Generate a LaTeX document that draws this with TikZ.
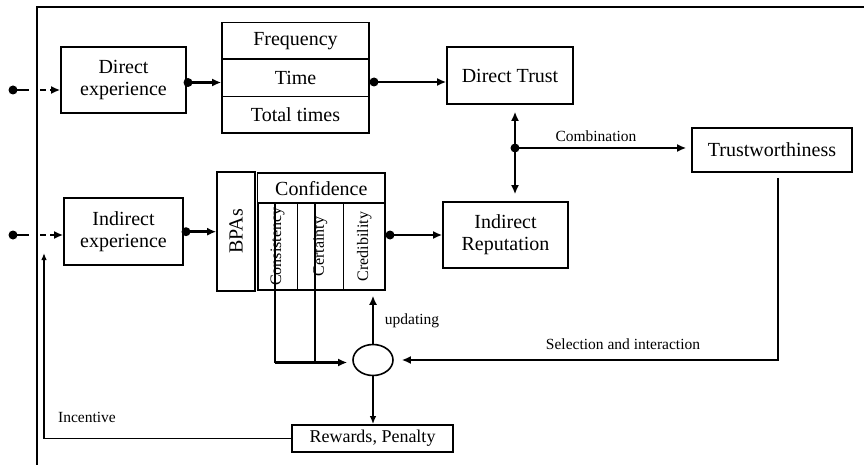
\documentclass[tikz,border=0pt]{standalone}
\usepackage{fontspec}
\setmainfont{Liberation Serif}
\usetikzlibrary{arrows.meta,shapes.geometric,calc}
\begin{document}
\begin{tikzpicture}[x=1pt,y=-1pt,
  box/.style={draw,line width=1.6pt,inner sep=0pt,align=center,font=\fontsize{20}{22}\selectfont},
  vbox/.style={draw,line width=1.6pt,inner sep=0pt,font=\fontsize{16}{18}\selectfont,rotate=90},
  lbl/.style={font=\fontsize{15.5}{17}\selectfont,inner sep=0pt},
  thickarrow/.style={line width=2.8pt,-{Latex[length=9pt,width=8pt]}},
  thinarrow/.style={line width=1.6pt,-{Latex[length=8pt,width=6.5pt]}},
  dot/.style={circle,fill=black,inner sep=0pt,minimum size=9pt},
  dashedarrow/.style={line width=2.8pt,dash pattern=on 6pt off 4pt,-{Latex[length=9pt,width=8pt]}}
]
\useasboundingbox (0,0) rectangle (864,465);
% frame
\draw[line width=1.6pt] (37,465) -- (37,7) -- (864,7);

% nodes
\node[box,minimum width=125pt,minimum height=66pt] (dexp) at (123.5,80) {Direct\\experience};
\node[box,minimum width=147pt,minimum height=36.6pt] (freq) at (295.5,41) {Frequency};
\node[box,minimum width=147pt,minimum height=37.4pt] (time) at (295.5,78) {Time};
\node[box,minimum width=147pt,minimum height=36.6pt] (total) at (295.5,115) {Total times};
\node[box,minimum width=126pt,minimum height=57pt] (dtrust) at (510,75.5) {Direct Trust};
\node[box,minimum width=160pt,minimum height=44pt] (trust) at (772,150) {Trustworthiness};
\node[box,minimum width=125pt,minimum height=66pt] (irep) at (505.5,235) {Indirect\\Reputation};
\node[box,minimum width=119pt,minimum height=67pt] (iexp) at (123.5,231.5) {Indirect\\experience};
\node[box,rotate=90,minimum width=119pt,minimum height=38pt] (bpas) at (236,231.5) {BPAs};
\node[box,minimum width=127.3pt,minimum height=30pt] (conf) at (321.3,188.3) {Confidence};
\node[vbox,minimum width=86.7pt,minimum height=39.6pt] (cons) at (277.5,246.6) {Consistency};
\node[vbox,minimum width=86.7pt,minimum height=46pt] (cert) at (320.3,246.6) {Certainty};
\node[vbox,minimum width=86.7pt,minimum height=41.7pt] (cred) at (364.2,246.6) {Credibility};
\node[draw,ellipse,line width=1.6pt,minimum width=40pt,minimum height=31pt,inner sep=0pt] (ell) at (373,360) {};
\node[box,minimum width=161pt,minimum height=27pt,font=\fontsize{18}{20}\selectfont] (rew) at (372.5,438.5) {Rewards, Penalty};

% labels
\node[lbl] (lcomb) at (596,136) {Combination};
\node[lbl] (lsel) at (623,344) {Selection and interaction};
\node[lbl] (lupd) at (412,321) {updating};
\node[lbl] (linc) at (87,417) {Incentive};

% inputs
\node[dot] (in1) at (13,90) {};
\coordinate (in1e) at (29,90);
\draw[line width=2.8pt] (in1.center) -- (in1e);
\coordinate (d1s) at (40,90);
\draw[dashedarrow] (d1s) -- (d1s -| dexp.west);

\node[dot] (in2) at (13,235) {};
\coordinate (in2e) at (29,235);
\draw[line width=2.8pt] (in2.center) -- (in2e);
\coordinate (d2s) at (40,235);
\draw[dashedarrow] (d2s) -- (d2s -| iexp.west);

% direct path
\node[dot] (p1) at (188,82.5) {};
\draw[thickarrow] (p1.center) -- (p1 -| time.west);
\node[dot] (p2) at (374,82) {};
\draw[thickarrow] (p2.center) -- (p2 -| dtrust.west);

% combination
\coordinate (vx) at (515,148);
\draw[line width=2.8pt,{Latex[length=9pt,width=8pt]}-{Latex[length=9pt,width=8pt]},shorten <=7pt,shorten >=7pt]
  (vx |- dtrust.south) -- (vx |- irep.north);
\node[dot] (p3) at (vx) {};
\draw[thickarrow,shorten >=5pt] (p3.center) -- (p3 -| trust.west);

% indirect path
\node[dot] (p4) at (186,231.7) {};
\draw[thickarrow] (p4.center) -- (p4 -| bpas.north);
\node[dot] (p5) at (390,235) {};
\draw[thickarrow] (p5.center) -- (p5 -| irep.west);

% selection and interaction
\coordinate (tdown) at (778,178);
\coordinate (tcorner) at (778,360);
\draw[thickarrow,shorten >=8pt] (tdown) -- (tcorner) -- (ell.east);

% updating
\draw[thickarrow,shorten >=5pt] (ell.north) -- (ell.north |- cred.west);

% consistency/certainty to ellipse
\coordinate (cs) at (275,0);
\coordinate (ct) at (315,0);
\coordinate (jy) at (0,362.5);
\draw[line width=2.8pt] (cs |- cons.east) -- (cs |- jy);
\draw[line width=2.8pt] (ct |- cert.east) -- (ct |- jy);
\draw[thickarrow,shorten >=5pt] (cs |- jy) -- (ell.west |- jy);

% rewards
\draw[thinarrow] (ell.south) -- (ell.south |- rew.north);
\coordinate (ix) at (44,253);
\draw[line width=1.3pt,-{Latex[length=7pt,width=5.5pt]}] (rew.west) -- (rew.west -| ix) -- (ix);
\end{tikzpicture}
\end{document}
